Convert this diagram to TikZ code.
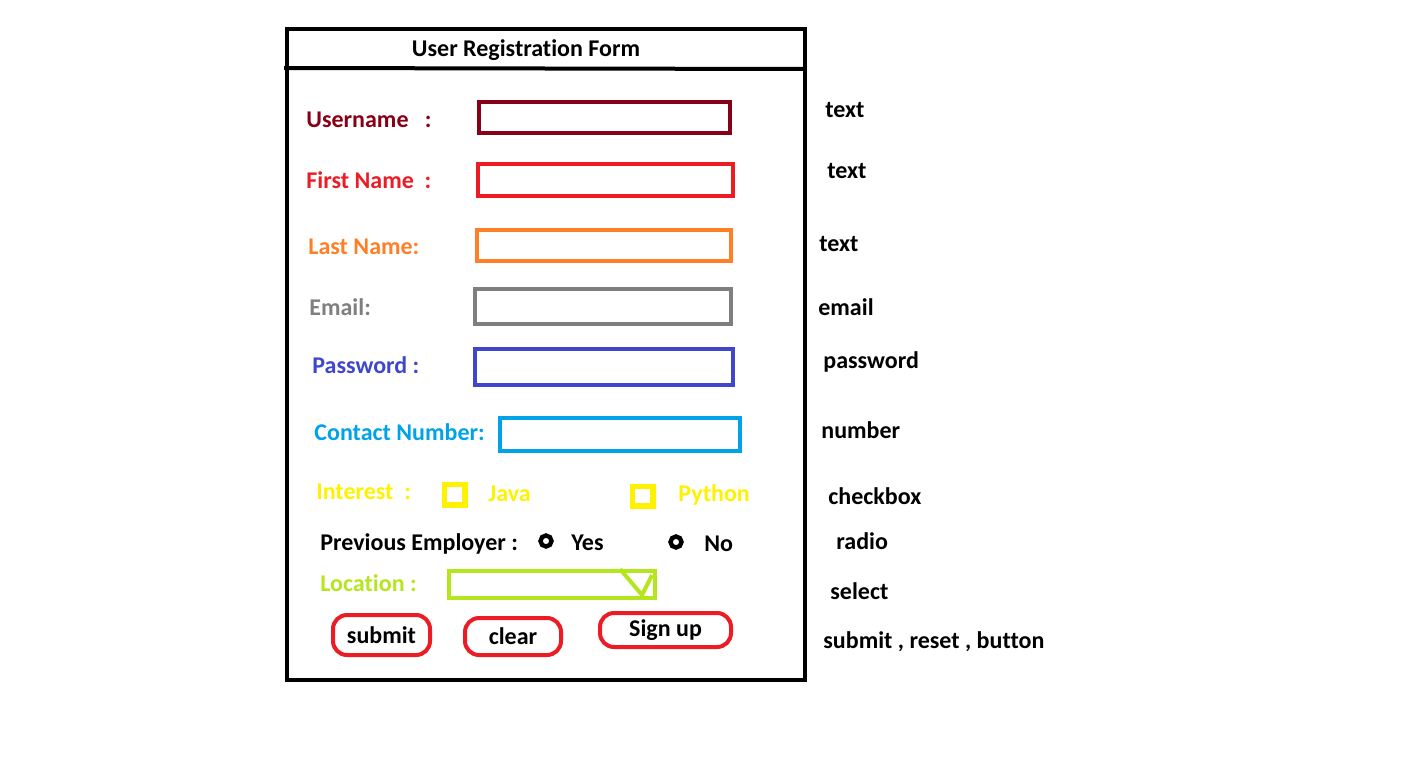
\documentclass[tikz,border=0pt]{standalone}
\usepackage{fontspec}
\setmainfont{Carlito}[Ligatures=NoCommon]
\usepackage{xcolor}
\usetikzlibrary{calc}

\definecolor{darkred}{HTML}{880015}
\definecolor{formred}{HTML}{ED1C24}
\definecolor{formorange}{HTML}{FF7F27}
\definecolor{formgray}{HTML}{7F7F7F}
\definecolor{formindigo}{HTML}{3F48CC}
\definecolor{formcyan}{HTML}{00A2E8}
\definecolor{formyellow}{HTML}{FFF200}
\definecolor{formlime}{HTML}{B5E61D}

\tikzset{
  lbl/.style={anchor=base west, inner sep=0pt, font=\bfseries\fontsize{12}{14}\selectfont},
  field/.style={line width=2pt},
  tick/.style={line width=2.6pt, draw=formyellow},
  radio/.style={line width=2.2pt},
  btn/.style={draw=formred, line width=2pt, rounded corners=7pt, inner sep=0pt,
    font=\bfseries\fontsize{12}{14}\selectfont},
}

\begin{document}
\begin{tikzpicture}[x=0.5pt,y=-0.5pt]
      \useasboundingbox (0,0) rectangle (1412,765);

      % Frame
      \draw[line width=2pt] (287,29) rectangle (805,680);
      \draw[line width=2pt] (284,68) -- (805,69);
      \node[lbl, anchor=base] (title) at (526,57) {User Registration Form};

      % Text fields
      \foreach \n/\t/\c/\lx/\ly/\ax/\ay/\bx/\by in {
        user/{Username\ \ \ :}/darkred/306/127/479/102/730/133,
        first/{First Name\ \ :}/formred/306/188/478/164/733/196,
        last/{Last Name:}/formorange/308/254/477/230/731/261,
        mail/{Email:}/formgray/309/315/475/289/731/324,
        pass/{Password :}/formindigo/312/373/475/349/733/385,
        phone/{Contact Number:}/formcyan/314/440/500/418/740/451}
      {
        \node[lbl, text=\c] (\n lbl) at (\lx,\ly) {\t};
        \draw[field, draw=\c] (\ax,\ay) rectangle (\bx,\by);
      }

      % Checkboxes
      \node[lbl, text=formyellow] (interest) at (316,499) {Interest\ \ :};
      \draw[tick] (444.5,484.5) rectangle (465,505);
      \node[lbl, text=formyellow] (java) at (488,501) {Java};
      \draw[tick] (632.5,486.5) rectangle (653,506);
      \node[lbl, text=formyellow] (python) at (678,501) {Python};

      % Radio buttons
      \node[lbl] (employer) at (320,550) {Previous Employer :};
      \draw[radio] (546,541) circle (5.5);
      \node[lbl] (yes) at (571,550) {Yes};
      \draw[radio] (676,542) circle (5.5);
      \node[lbl] (no) at (704,551) {No};

      % Select
      \node[lbl, text=formlime] (location) at (320,591) {Location :};
      \draw[field, draw=formlime] (449,571) rectangle (655,598);
      \draw[field, draw=formlime] (620,569) -- (642,595) -- (652,575);

      % Buttons
      \node[btn, minimum width=48.5pt, minimum height=20pt] (submit) at (381.5,635) {submit};
      \node[btn, minimum width=48pt, minimum height=18.5pt] (clear) at (513,636.5) {clear};
      \node[btn, minimum width=65.5pt, minimum height=17pt] (signup) at (665.5,630) {Sign up};

      % Input types
      \foreach \n/\x/\y/\t in {ta/825/118/text, tb/827/178/text, tc/819/251/text,
        td/818/315/email, te/823/368/password, tf/821/438/number,
        tg/828/504/checkbox, th/836/549/radio, ti/830/599/select,
        tj/823/648/{submit , reset , button}}
      {
        \node[lbl] (\n) at (\x,\y) {\t};
      }

\end{tikzpicture}
\end{document}
